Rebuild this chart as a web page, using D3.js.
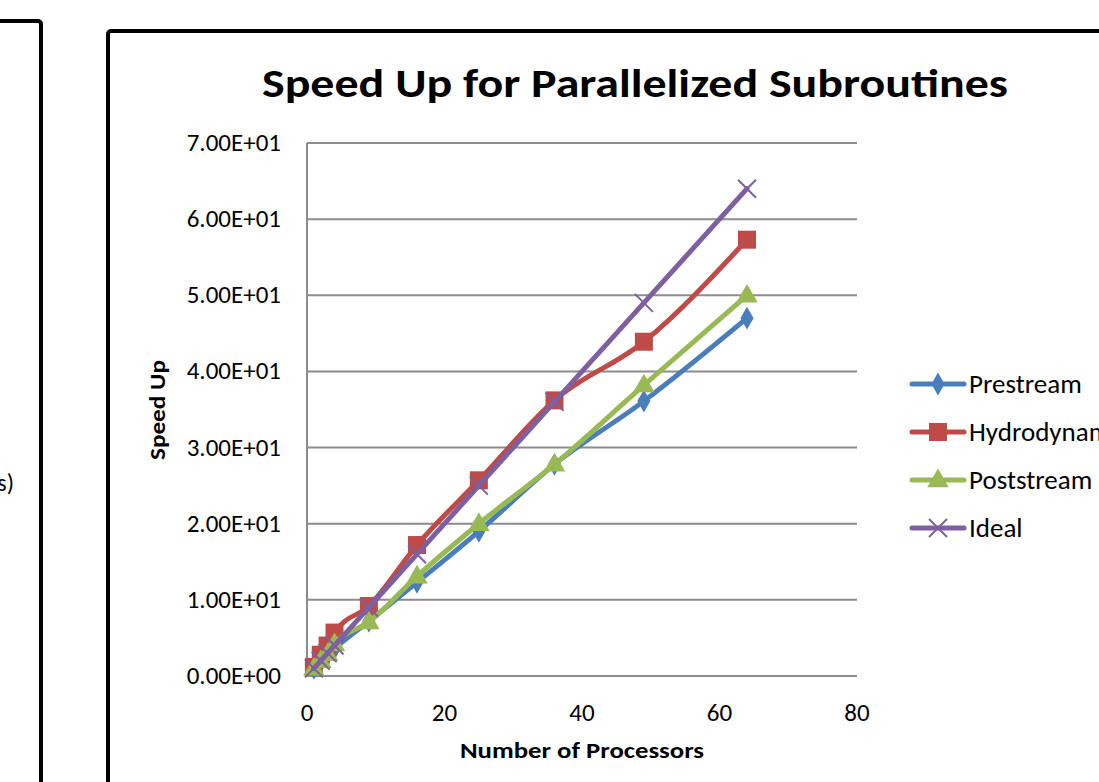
<!DOCTYPE html>
<html>
<head>
<meta charset="utf-8">
<script src="https://cdn.jsdelivr.net/npm/d3@7"></script>
<style>
  body { margin: 0; background: #fff; overflow: hidden; }
</style>
</head>
<body>
<div id="chart"></div>
<script>
var processors = [1, 2, 3, 4, 9, 16, 25, 36, 49, 64];
var prestream  = [1, 1.9, 2.8, 3.6, 7.2, 12.3, 19.0, 27.8, 36.1, 47.0];
var hydrodyn   = [1.2, 2.8, 4.0, 5.7, 9.2, 17.2, 25.7, 36.2, 43.9, 57.3];
var poststream = [1, 2.0, 2.9, 4.2, 7.1, 13.1, 20.0, 27.8, 38.2, 50.0];
var ideal      = [1, 2, 3, 4, 9, 16, 25, 36, 49, 64];

var seriesNames = ["Prestream", "Hydrodynamics", "Poststream", "Ideal"];
var seriesColors = ["#4a7ebb", "#be4b48", "#98b954", "#7d60a0"];
var xTicks = [0, 20, 40, 60, 80];
var yTicks = [0, 10, 20, 30, 40, 50, 60, 70];

var width = 1099, height = 782;

var svg = d3.select("#chart").append("svg")
    .attr("width", width)
    .attr("height", height)
    .style("font-family", "Carlito, Calibri, 'Open Sans', sans-serif");

// neighbour chart, only its right edge shows
svg.append("rect").attr("x", -20).attr("y", 21).attr("width", 61).attr("height", 800)
    .attr("rx", 3).attr("fill", "none").attr("stroke", "#000").attr("stroke-width", 4);
svg.append("text").attr("x", 14).attr("y", 491).attr("text-anchor", "end")
    .style("font-size", "24px").text("s)");

// main chart frame
svg.append("rect").attr("x", 108).attr("y", 31).attr("width", 1100).attr("height", 800)
    .attr("rx", 3).attr("fill", "none").attr("stroke", "#000").attr("stroke-width", 4);

var x = d3.scaleLinear().domain([0, 80]).range([307, 857]);
var y = d3.scaleLinear().domain([0, 70]).range([676, 143]);

// gridlines
svg.append("g").selectAll("line").data(yTicks).join("line")
    .attr("x1", x(0)).attr("x2", x(80))
    .attr("y1", d => y(d)).attr("y2", d => y(d))
    .attr("stroke", "#8c8c8c").attr("stroke-width", 2);

// y axis
svg.append("line").attr("x1", x(0)).attr("x2", x(0)).attr("y1", y(0)).attr("y2", y(70))
    .attr("stroke", "#8c8c8c").attr("stroke-width", 2);

svg.append("g").selectAll("text").data(yTicks).join("text")
    .attr("x", 281).attr("y", d => y(d) + 8)
    .attr("text-anchor", "end")
    .style("font-size", "25px").attr("fill", "#000")
    .text(d => d3.format(".2e")(d).replace("e", "E").replace(/E([+-])(\d)$/, "E$10$2"));

svg.append("g").selectAll("text").data(xTicks).join("text")
    .attr("x", d => x(d)).attr("y", 721)
    .attr("text-anchor", "middle")
    .style("font-size", "25px").attr("fill", "#000")
    .text(d => d);

// titles
svg.append("text").attr("x", 635).attr("y", 97).attr("text-anchor", "middle")
    .style("font-size", "40px").style("font-weight", "bold")
    .attr("textLength", 746).attr("lengthAdjust", "spacingAndGlyphs")
    .text("Speed Up for Parallelized Subroutines");

svg.append("text").attr("x", 582).attr("y", 758).attr("text-anchor", "middle")
    .style("font-size", "22px").style("font-weight", "bold")
    .attr("textLength", 244).attr("lengthAdjust", "spacingAndGlyphs")
    .text("Number of Processors");

svg.append("text").attr("transform", "translate(165,410) rotate(-90)")
    .attr("text-anchor", "middle")
    .style("font-size", "22px").style("font-weight", "bold")
    .attr("textLength", 100).attr("lengthAdjust", "spacingAndGlyphs")
    .text("Speed Up");

// markers
function drawMarker(g, i, cx, cy) {
    var c = seriesColors[i];
    if (i == 0) {
        g.append("path").attr("d", d3.symbol(d3.symbolDiamond, 150)())
            .attr("transform", "translate(" + cx + "," + cy + ")").attr("fill", c);
    } else if (i == 1) {
        g.append("rect").attr("x", cx - 9).attr("y", cy - 9).attr("width", 18).attr("height", 18).attr("fill", c);
    } else if (i == 2) {
        g.append("path").attr("d", d3.symbol(d3.symbolTriangle, 200)())
            .attr("transform", "translate(" + cx + "," + (cy + 1) + ")").attr("fill", c);
    } else {
        g.append("path").attr("d", "M-9,-9L9,9M-9,9L9,-9")
            .attr("transform", "translate(" + cx + "," + cy + ")")
            .attr("stroke", c).attr("stroke-width", 2).attr("fill", "none");
    }
}

var allSeries = [prestream, hydrodyn, poststream, ideal];
var line = d3.line().x(d => x(d[0])).y(d => y(d[1])).curve(d3.curveMonotoneX);

allSeries.forEach(function (vals, i) {
    var pts = processors.map((p, k) => [p, vals[k]]);
    var g = svg.append("g");
    g.append("path").datum(pts).attr("d", line)
        .attr("fill", "none").attr("stroke", seriesColors[i])
        .attr("stroke-width", 5).attr("stroke-linejoin", "round").attr("stroke-linecap", "round");
    pts.forEach(function (p) { drawMarker(g, i, x(p[0]), y(p[1])); });
});

// legend (the long name runs off the right edge, as in the original)
seriesNames.forEach(function (name, i) {
    var ly = 384 + 48 * i;
    var g = svg.append("g");
    g.append("line").attr("x1", 912).attr("x2", 964).attr("y1", ly).attr("y2", ly)
        .attr("stroke", seriesColors[i]).attr("stroke-width", 5).attr("stroke-linecap", "round");
    drawMarker(g, i, 938, ly);
    g.append("text").attr("x", 969).attr("y", ly + 9)
        .style("font-size", "27px").attr("fill", "#000").text(name);
});
</script>
</body>
</html>
